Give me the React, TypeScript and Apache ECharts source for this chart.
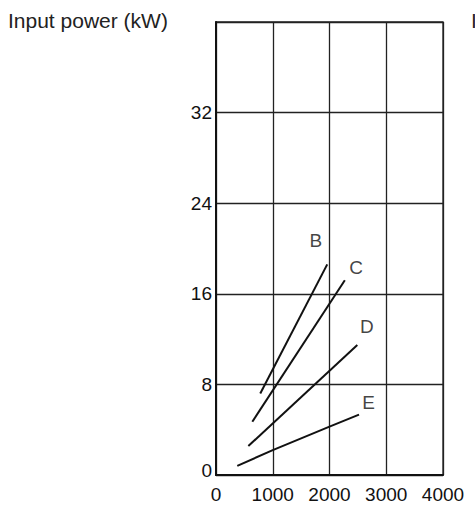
import React, { useEffect, useRef } from "react";
import * as echarts from "echarts";

const xTicks = [0, 1000, 2000, 3000, 4000];
const yTicks = [0, 8, 16, 24, 32];
const lineB: [number, number][] = [[780, 7.2], [1960, 18.6]];
const lineC: [number, number][] = [[640, 4.7], [2270, 17.2]];
const lineD: [number, number][] = [[570, 2.56], [2490, 11.48]];
const lineE: [number, number][] = [[375, 0.8], [1000, 2.2], [2000, 4.27], [2520, 5.33]];
const labelNames = ["B", "C", "D", "E"];
const labelPos: [number, number][] = [[1760, 20.75], [2470, 18.3], [2660, 13.1], [2690, 6.42]];

const FONT = "'Liberation Sans', Arial, Helvetica, sans-serif";

export default function App() {
  const ref = useRef<HTMLDivElement>(null);
  useEffect(() => {
    document.body.style.margin = "0";
    if (!ref.current) return;
    const chart = echarts.init(ref.current, undefined, { renderer: "svg" });
    const lineSeries = [lineB, lineC, lineD, lineE].map((d, i) => ({
      type: "line",
      name: labelNames[i],
      data: d,
      showSymbol: false,
      symbol: "none",
      lineStyle: { color: "#111", width: 2 },
      silent: true,
    }));
    chart.setOption({
      animation: false,
      grid: { left: 216, right: 32, top: 22, bottom: 43, containLabel: false },
      xAxis: {
        type: "value",
        min: 0,
        max: 4000,
        interval: 1000,
        axisLine: { show: true, lineStyle: { color: "#111", width: 2 } },
        axisTick: { show: false },
        splitLine: { show: true, lineStyle: { color: "#222", width: 1.3 } },
        axisLabel: {
          color: "#111",
          fontSize: 19,
          fontFamily: FONT,
          margin: 10,
          formatter: (v: number) => (xTicks.includes(v) ? String(v) : ""),
        },
      },
      yAxis: {
        type: "value",
        min: 0,
        max: 40,
        interval: 8,
        axisLine: { show: true, lineStyle: { color: "#111", width: 2 } },
        axisTick: { show: false },
        splitLine: { show: true, lineStyle: { color: "#222", width: 1.3 } },
        axisLabel: {
          color: "#111",
          fontSize: 19,
          fontFamily: FONT,
          margin: 4,
          formatter: (v: number) =>
            v === 0 ? "{z|0}" : yTicks.includes(v) ? String(v) : "",
          rich: {
            z: { fontSize: 19, fontFamily: FONT, color: "#111", padding: [0, 0, 10, 0] },
          },
        },
      },
      graphic: [
        {
          type: "rect",
          shape: { x: 216, y: 22, width: 227, height: 453 },
          style: { fill: "none", stroke: "#222", lineWidth: 1.3 },
          silent: true,
        },
        {
          type: "text",
          left: 8,
          top: 10,
          style: { text: "Input power (kW)", fontSize: 21, fontFamily: FONT, fill: "#222" },
        },
        {
          type: "text",
          left: 471,
          top: 10,
          style: { text: "Input power (kW)", fontSize: 21, fontFamily: FONT, fill: "#222" },
        },
      ],
      series: [
        ...lineSeries,
        {
          type: "scatter",
          data: labelPos.map((p, i) => ({ value: p, name: labelNames[i] })),
          symbolSize: 0,
          silent: true,
          label: {
            show: true,
            position: "inside",
            formatter: (p: any) => p.name,
            color: "#111",
            fontSize: 19,
            fontFamily: FONT,
          },
        },
      ],
    });
    return () => chart.dispose();
  }, []);
  return <div ref={ref} style={{ width: 475, height: 518 }} />;
}
